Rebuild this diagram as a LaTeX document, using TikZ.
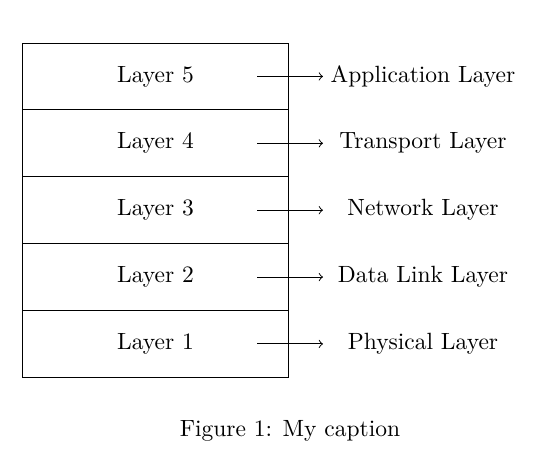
\documentclass[tikz,border=0pt]{standalone}
\begin{document}
\begin{tikzpicture}[x=0.014948cm,y=-0.014948cm,
  layerbox/.style={draw,line width=0.4pt,minimum width=3.991cm,minimum height=1.0cm,inner sep=0pt,outer sep=0pt,font=\normalsize},
  lbl/.style={inner sep=0pt,font=\normalsize},
  arr/.style={->,line width=0.4pt}]
\useasboundingbox (0,0) rectangle (542,468);
\node[layerbox,anchor=north] (r5) at (155.5,43) {Layer 5};
\node[layerbox,anchor=north] (r4) at (r5.south) {Layer 4};
\node[layerbox,anchor=north] (r3) at (r4.south) {Layer 3};
\node[layerbox,anchor=north] (r2) at (r3.south) {Layer 2};
\node[layerbox,anchor=north] (r1) at (r2.south) {Layer 1};
\foreach \i/\t in {5/Application Layer,4/Transport Layer,3/Network Layer,2/Data Link Layer,1/Physical Layer}{
  \path (r\i.center) ++(267.5,0) node[lbl] (l\i) {\t};
  \path (r\i.center) ++(101.5,0) coordinate (s\i);
  \path (r\i.center) ++(167.5,0) coordinate (e\i);
  \draw[arr] (s\i) -- (e\i);
}
\node[lbl] (cap) at (290,431) {Figure 1: My caption};
\end{tikzpicture}
\end{document}
